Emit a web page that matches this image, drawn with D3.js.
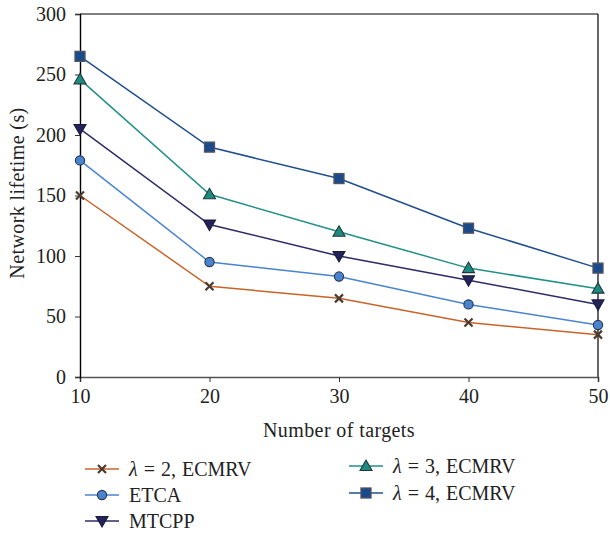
<!DOCTYPE html>
<html><head><meta charset="utf-8">
<script src="https://cdn.jsdelivr.net/npm/d3@7"></script>
<style>body{margin:0;background:#fff}svg{display:block}</style>
</head><body><svg id="c" width="610" height="534"></svg>
<script>
const targets = [10, 20, 30, 40, 50];
const lambda2 = [150, 75, 65, 45, 35];
const etca = [179, 95, 83, 60, 43];
const mtcpp = [205, 126, 100, 80, 60];
const lambda3 = [246, 151, 120, 90, 73];
const lambda4 = [265, 190, 164, 123, 90];
const yTicks = [0, 50, 100, 150, 200, 250, 300];
const xTicks = [10, 20, 30, 40, 50];

const series = [
  {key:"l2", pre:"λ", label:" = 2, ECMRV", values:lambda2, color:"#c8642a", marker:"x", fill:"none", stroke:"#4a3a30"},
  {key:"etca", pre:"", label:"ETCA", values:etca, color:"#4a84d0", marker:"circle", fill:"#4a84d0", stroke:"#2a3a55"},
  {key:"mtcpp", pre:"", label:"MTCPP", values:mtcpp, color:"#2c2c66", marker:"tridown", fill:"#23235a", stroke:"#1a1a3a"},
  {key:"l3", pre:"λ", label:" = 3, ECMRV", values:lambda3, color:"#21908a", marker:"triup", fill:"#1f8a82", stroke:"#1f3a3a"},
  {key:"l4", pre:"λ", label:" = 4, ECMRV", values:lambda4, color:"#1f4f90", marker:"square", fill:"#1b4a8a", stroke:"#505560"}
];

const svg = d3.select("#c");
const font = "'Liberation Serif','DejaVu Serif',serif";
const fs = 20;
const x = d3.scaleLinear().domain([10,50]).range([80,598]);
const y = d3.scaleLinear().domain([0,300]).range([377,14]);

// frame
svg.append("line").attr("x1",80).attr("x2",598).attr("y1",14).attr("y2",14).attr("stroke","#000").attr("stroke-width",1.2);
svg.append("line").attr("x1",598).attr("x2",598).attr("y1",14).attr("y2",377).attr("stroke","#000").attr("stroke-width",1.2);

const xa = svg.append("g").attr("transform","translate(0,377)")
  .call(d3.axisBottom(x).tickValues(xTicks).tickSize(5).tickPadding(0).tickFormat(d3.format("d")));
const ya = svg.append("g").attr("transform","translate(80,0)")
  .call(d3.axisLeft(y).tickValues(yTicks).tickSize(5).tickPadding(9).tickFormat(d3.format("d")));
[xa,ya].forEach(a=>{
  a.select(".domain").attr("stroke","#555").attr("stroke-width",1.6);
  a.selectAll(".tick line").attr("stroke","#333").attr("stroke-width",1);
  a.selectAll("text").attr("font-family",font).attr("font-size",fs).attr("fill","#222");
});
xa.selectAll("text").attr("y",26).attr("dy",null);
ya.select(".domain").attr("stroke","#000").attr("stroke-width",1.4);

svg.append("text").attr("x",339).attr("y",437).attr("text-anchor","middle")
  .attr("font-family",font).attr("font-size",fs).attr("fill","#222").attr("letter-spacing",0.4).text("Number of targets");
svg.append("text").attr("transform","translate(24,193) rotate(-90)").attr("text-anchor","middle")
  .attr("font-family",font).attr("font-size",fs).attr("fill","#222").attr("letter-spacing",0.4).text("Network lifetime (s)");

function drawMarker(g, s, cx, cy){
  if(s.marker==="x"){
    const r=4;
    g.append("path").attr("d",`M${cx-r},${cy-r}L${cx+r},${cy+r}M${cx-r},${cy+r}L${cx+r},${cy-r}`)
      .attr("stroke",s.stroke).attr("stroke-width",2.2);
  } else if(s.marker==="circle"){
    g.append("circle").attr("cx",cx).attr("cy",cy).attr("r",4.6).attr("fill",s.fill).attr("stroke",s.stroke).attr("stroke-width",1.2);
  } else if(s.marker==="square"){
    g.append("rect").attr("x",cx-5).attr("y",cy-5).attr("width",10).attr("height",10).attr("fill",s.fill).attr("stroke",s.stroke).attr("stroke-width",1.3);
  } else if(s.marker==="triup"){
    g.append("path").attr("d",`M${cx},${cy-6}L${cx+6},${cy+4.5}L${cx-6},${cy+4.5}Z`).attr("fill",s.fill).attr("stroke",s.stroke).attr("stroke-width",1.1);
  } else if(s.marker==="tridown"){
    g.append("path").attr("d",`M${cx},${cy+6}L${cx+6},${cy-4.5}L${cx-6},${cy-4.5}Z`).attr("fill",s.fill).attr("stroke",s.stroke).attr("stroke-width",1.1);
  }
}

const line = d3.line().x((d,i)=>x(targets[i])).y(d=>y(d));
series.forEach(s=>{
  svg.append("path").datum(s.values).attr("d",line).attr("fill","none").attr("stroke",s.color).attr("stroke-width",1.5);
});
series.forEach(s=>{
  const g = svg.append("g");
  s.values.forEach((v,i)=>drawMarker(g,s,x(targets[i]),y(v)));
});

// legend
const legPos = {
  l2:[85,469], etca:[85,495], mtcpp:[85,521], l3:[349,466], l4:[349,493]
};
series.forEach(s=>{
  const [lx,ly] = legPos[s.key];
  const g = svg.append("g");
  g.append("line").attr("x1",lx).attr("x2",lx+34).attr("y1",ly).attr("y2",ly).attr("stroke",s.color).attr("stroke-width",1.5);
  drawMarker(g,s,lx+17,ly);
  const t = g.append("text").attr("x",lx+44).attr("y",ly+7).attr("font-family",font).attr("font-size",fs).attr("fill","#222").attr("word-spacing",1);
  if(s.pre){ t.append("tspan").attr("font-style","italic").text(s.pre); }
  t.append("tspan").text(s.label);
});
</script></body></html>
